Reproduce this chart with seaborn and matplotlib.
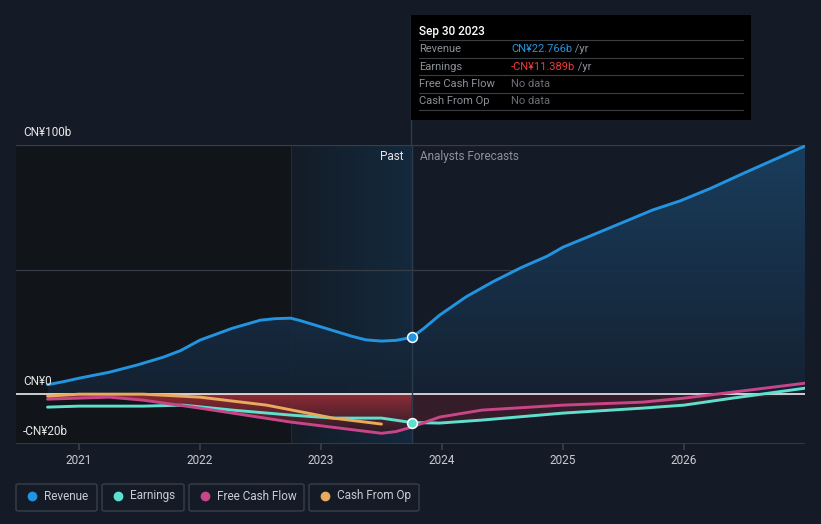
import numpy as np
import pandas as pd
import matplotlib
matplotlib.use("Agg")
import matplotlib.pyplot as plt
import seaborn as sns
from matplotlib.patches import Rectangle, FancyBboxPatch
from matplotlib.colors import LinearSegmentedColormap

# ---------------- data (CN¥ billions) ----------------
rev_x = [2020.74, 2020.87, 2021.0, 2021.25, 2021.48, 2021.7, 2021.84, 2022.0, 2022.27,
         2022.5, 2022.62, 2022.75, 2022.83, 2023.0, 2023.25, 2023.37, 2023.5, 2023.62,
         2023.75, 2023.85, 2023.98, 2024.2, 2024.42, 2024.65, 2024.87, 2025.0, 2025.31,
         2025.74, 2025.97, 2026.22, 2026.49, 2026.74, 2027.0]
rev_y = [3.8, 5.0, 6.4, 8.8, 11.7, 14.9, 17.5, 21.7, 26.5,
         29.7, 30.3, 30.5, 29.5, 27.0, 23.3, 21.8, 21.3, 21.6,
         22.766, 26.4, 31.7, 39.1, 45.1, 50.7, 55.4, 59.0, 65.2,
         73.9, 77.6, 82.6, 88.6, 94.0, 99.6]

earn_x = [2020.74, 2021.0, 2021.53, 2021.86, 2022.27, 2022.75, 2023.1, 2023.5, 2023.75,
          2023.98, 2024.33, 2025.0, 2025.66, 2026.0, 2026.4, 2027.0]
earn_y = [-5.2, -4.8, -4.8, -4.4, -6.4, -8.4, -9.6, -9.6, -11.389,
          -11.6, -10.4, -7.6, -5.6, -4.4, -1.6, 2.4]

fcf_x = [2020.74, 2021.25, 2021.53, 2022.0, 2022.75, 2023.1, 2023.5, 2023.62, 2023.75,
         2023.98, 2024.33, 2025.0, 2025.66, 2026.0, 2026.4, 2027.0]
fcf_y = [-2.0, -1.2, -2.4, -5.6, -11.2, -13.3, -15.7, -15.0, -13.2,
         -9.2, -6.4, -4.4, -3.2, -1.6, 0.8, 4.4]

cfo_x = [2020.74, 2021.0, 2021.53, 2022.0, 2022.55, 2023.1, 2023.5]
cfo_y = [-0.8, 0.0, 0.0, -1.2, -4.4, -9.6, -12.0]

year_ticks = [2021, 2022, 2023, 2024, 2025, 2026]
y_labels = {100: "CN¥100b", 0: "CN¥0", -20: "-CN¥20b"}
legend_names = ["Revenue", "Earnings", "Free Cash Flow", "Cash From Op"]

# ---------------- style ----------------
BG = "#151b26"
C_REV = "#2394e0"
C_EARN = "#5fe0cf"
C_FCF = "#c8458a"
C_CFO = "#e8aa5c"
sns.set_theme(style="dark")
plt.rcParams["font.family"] = ["Roboto", "DejaVu Sans"]

W, H = 821, 524
fig = plt.figure(figsize=(W / 100, H / 100), dpi=100, facecolor=BG)
ax = fig.add_axes([16 / W, (H - 444) / H, (805 - 16) / W, (444 - 145) / H])
ax.set_facecolor(BG)
x0 = 2021 + (16 - 79) / 121
x1 = 2027.0
ax.set_xlim(x0, x1)
ax.set_ylim(-20, 100)
past_end = 2023.75
hl_start = 2022.75

# past darker background
ax.axvspan(x0, hl_start, color="#111419", zorder=0, lw=0)
grad = np.linspace(0, 1, 256).reshape(1, -1)
cm_hl = LinearSegmentedColormap.from_list("hl", ["#131c27", "#14293d"])
ax.imshow(grad, extent=[hl_start, past_end, -20, 100], aspect="auto", cmap=cm_hl,
          zorder=0.5, origin="lower")
ax.axvline(hl_start, color="#1c2c3c", lw=0.8, zorder=0.6)

# gridlines
for yv in [100, 50]:
    ax.axhline(yv, color="#373d47", lw=0.9, zorder=1)
ax.axhline(-20, color="#3a404a", lw=1.2, zorder=1)

# revenue gradient fill
rx = np.array(rev_x); ry = np.array(rev_y)
poly = ax.fill_between(rx, 0, ry, color="none", lw=0)
cm_rev = LinearSegmentedColormap.from_list("rev", ["#152233", "#1b3f60"])
vgrad = np.linspace(0, 1, 256).reshape(-1, 1)
im = ax.imshow(vgrad, extent=[rx[0], rx[-1], 0, 100], aspect="auto", cmap=cm_rev,
               origin="lower", zorder=1.5, alpha=0.95)
im.set_clip_path(poly.get_paths()[0], transform=ax.transData)

# negative (red) fill in the past
fx = np.array(fcf_x); fy = np.array(fcf_y)
mask_past = fx <= past_end
poly2 = ax.fill_between(fx[mask_past], 0, fy[mask_past], color="none", lw=0)
cm_red = LinearSegmentedColormap.from_list("red", ["#2a1a24", "#a32e38"])
im2 = ax.imshow(vgrad, extent=[fx[0], past_end, -16, 0], aspect="auto", cmap=cm_red,
                origin="lower", zorder=1.6, alpha=0.85)
im2.set_clip_path(poly2.get_paths()[0], transform=ax.transData)
ex = np.array(earn_x); ey = np.array(earn_y)
mf = ex >= past_end
ax.fill_between(ex[mf], 0, np.minimum(ey[mf], 0), color="#4a1f2a", alpha=0.6, lw=0, zorder=1.6)

# zero line
ax.axhline(0, color="#ffffff", lw=1.1, zorder=2)

# lines via seaborn
df_list = []
for name, xs, ys in [("Revenue", rev_x, rev_y), ("Earnings", earn_x, earn_y),
                     ("Free Cash Flow", fcf_x, fcf_y), ("Cash From Op", cfo_x, cfo_y)]:
    df_list.append(pd.DataFrame({"x": xs, "y": ys, "series": name}))
df = pd.concat(df_list, ignore_index=True)
palette = {"Revenue": C_REV, "Earnings": C_EARN, "Free Cash Flow": C_FCF, "Cash From Op": C_CFO}
sns.lineplot(data=df, x="x", y="y", hue="series", palette=palette, ax=ax, lw=2.1,
             legend=False, sort=False, zorder=3)

# markers at Sep 30 2023
ax.scatter([past_end], [22.766], s=50, color=C_REV, edgecolor="white", lw=1.1, zorder=5)
ax.scatter([past_end], [-11.389], s=50, color=C_EARN, edgecolor="white", lw=1.1, zorder=5)

# past/forecast divider (extends up to tooltip)
ax.axvline(past_end, color="#2c3b4c", lw=1, zorder=2.5)
fig.add_artist(plt.Line2D([411 / W, 411 / W], [(H - 145) / H, (H - 15) / H],
                          color="#2c3b4c", lw=1))

ax.text(past_end - 0.07, 95.5, "Past", color="#e6e6e6", fontsize=8.5, ha="right", va="center", zorder=6)
ax.text(past_end + 0.07, 95.5, "Analysts Forecasts", color="#8c9199", fontsize=8.5, ha="left", va="center", zorder=6)

# y labels
for yv, lab in y_labels.items():
    ax.text(x0 + 0.06, yv + 2.3, lab, color="#e6e6e6", fontsize=8.5, ha="left", va="bottom", zorder=6)

# x ticks
ax.set_xticks(year_ticks)
ax.set_xticklabels([str(t) for t in year_ticks], color="#c8ccd2", fontsize=8.5)
ax.tick_params(axis="x", length=4, color="#3a404a", pad=3, bottom=True)
ax.set_yticks([])
ax.set_xlabel(""); ax.set_ylabel("")
for s in ax.spines.values():
    s.set_visible(False)
ax.grid(False)

# tooltip box
tx0, ty0, tx1, ty1 = 411, 15, 751, 120
fig.add_artist(Rectangle((tx0 / W, (H - ty1) / H), (tx1 - tx0) / W, (ty1 - ty0) / H,
                         facecolor="#000000", edgecolor="none", transform=fig.transFigure, zorder=10))
fig.text(419 / W, (H - 31) / H, "Sep 30 2023", color="white", fontsize=8.5, va="center", zorder=11,
         fontweight="medium")
rows = [("Revenue", "CN¥22.766b", "#2394e0", " /yr"),
        ("Earnings", "-CN¥11.389b", "#ef3b3b", " /yr"),
        ("Free Cash Flow", "No data", "#6b6f76", ""),
        ("Cash From Op", "No data", "#6b6f76", "")]
fig.canvas.draw()
for i, (lab, val, col, suf) in enumerate(rows):
    yc = 49 + i * 17.5
    fig.add_artist(plt.Line2D([419 / W, 743 / W], [(H - (yc - 9)) / H] * 2, color="#3a3d42", lw=0.8, zorder=11))
    fig.text(419 / W, (H - yc) / H, lab, color="#8c9199", fontsize=8, va="center", zorder=11)
    t = fig.text(511 / W, (H - yc) / H, val, color=col, fontsize=8, va="center", zorder=11)
    if suf:
        fig.canvas.draw()
        bb = t.get_window_extent()
        fig.text(bb.x1 / W, (H - yc) / H, suf, color="#8c9199", fontsize=8, va="center", zorder=11)
fig.add_artist(plt.Line2D([419 / W, 743 / W], [(H - 110) / H] * 2, color="#3a3d42", lw=0.8, zorder=11))

# legend boxes
boxes = [(16, 97), (102, 184), (189, 304), (309, 419)]
cols = [C_REV, C_EARN, C_FCF, C_CFO]
for (bx0, bx1), name, col in zip(boxes, legend_names, cols):
    fig.add_artist(FancyBboxPatch((bx0 / W, (H - 511) / H), (bx1 - bx0) / W, 27 / H,
                                  boxstyle="round,pad=0,rounding_size=0.003",
                                  facecolor=BG, edgecolor="#3a3f48", lw=1, transform=fig.transFigure))
    fig.add_artist(plt.Line2D([(bx0 + 16) / W], [(H - 496) / H], marker="o", markersize=6,
                              color=col, lw=0))
    fig.text((bx0 + 28) / W, (H - 496) / H, name, color="#c8ccd2", fontsize=8.5, va="center")

fig.savefig("out.png", dpi=100, facecolor=BG)
